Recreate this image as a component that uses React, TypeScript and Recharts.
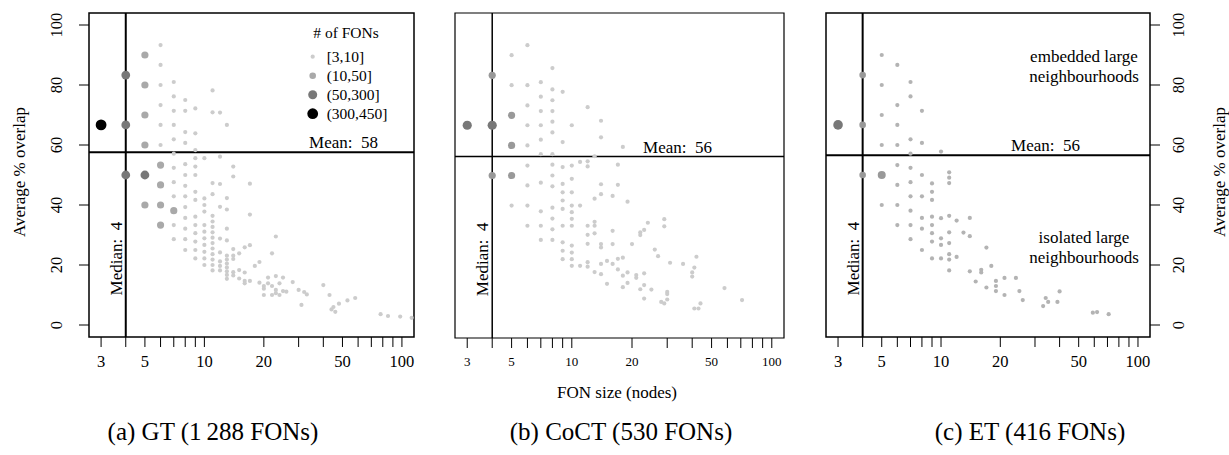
import React from 'react';
import { ScatterChart, Scatter, XAxis, YAxis, ReferenceLine, ReferenceArea } from 'recharts';

const SERIF = '"Liberation Serif", "Times New Roman", Times, serif';

// ---------- axes ----------
const xTicks = [3, 4, 5, 6, 7, 8, 9, 10, 20, 30, 40, 50, 60, 70, 80, 90, 100];
const xLabels = [3, 5, 10, 20, 50, 100];
const yTicks = [0, 20, 40, 60, 80, 100];
const X_DOMAIN: [number, number] = [2.606, 115.1];
const Y_DOMAIN: [number, number] = [-4, 104];

// ---------- legend ----------
const legendTitle = '# of FONs';
const legendLabels = ['[3,10]', '(10,50]', '(50,300]', '(300,450]'];

// ---------- captions ----------
const captions = ['(a) GT (1\u2009288 FONs)', '(b) CoCT (530 FONs)', '(c) ET (416 FONs)'];
const xTitle = 'FON size (nodes)';
const yTitle = 'Average % overlap';

// ---------- summary lines ----------
const median = 4;
const means = [57.6, 56.3, 56.6];
const meanLabels = ['Mean:  58', 'Mean:  56', 'Mean:  56'];

type Tup = [number, number];
const col = (x: number, ys: number[]): Tup[] => ys.map((y) => [x, y] as Tup);

// ---------- (a) GT ----------
const gtBlack: Tup[] = [[3, 66.7]];
const gtDark: Tup[] = [[4, 83.3], [4, 66.7], [4, 50], [5, 50]];
const gtMedium: Tup[] = [
  [5, 90], [5, 80], [5, 70], [5, 60], [5, 40],
  [6, 53.3], [6, 46.7], [6, 40], [6, 33.3], [7, 38.1],
];
const gtSmall: Tup[] = [
  ...col(6, [93.3, 86.7, 80, 73.3, 66.7, 60]),
  ...col(7, [81, 76.2, 71.4, 66.7, 61.9, 57.1, 52.4, 47.6, 42.9, 33.3, 28.6]),
  ...col(8, [75, 71.4, 64.3, 60.7, 53.6, 50, 46.4, 42.9, 39.3, 35.7, 32.1, 28.6, 25]),
  ...col(9, [72.2, 63.9, 58.3, 55.6, 52.8, 50, 44.4, 41.7, 36.1, 33.3, 30.6, 27.8, 25, 22.2]),
  ...col(10, [55.6, 42.2, 40, 37.8, 33.3, 31.1, 28.9, 26.7, 24.4, 22.2, 20]),
  ...col(11, [78.2, 70.9, 47.3, 43.6, 36.4, 34.5, 32.7, 30.9, 29.1, 27.3, 25.5, 23.6, 21.8, 20, 18.2]),
  ...col(12, [70.8, 56.1, 47, 39.4, 28.8, 24.2, 21.2, 19.7, 18.2]),
  ...col(13, [66.7, 42.3, 38.5, 32.1, 28.2, 23.1, 21.8, 20.5, 19.2, 17.9, 16.7, 15.4]),
  ...col(14, [52.8, 49.5, 25.3, 23.1, 22, 17.6, 16.5]),
  ...col(15, [23.9, 18.3, 15.5]),
  ...col(16, [25.9, 17.5, 14.7, 13.9]),
  ...col(17, [47.1, 36.8, 26.6, 14.7]),
  ...col(18, [19.7]),
  ...col(19, [21, 14.1]),
  ...col(20, [13, 12.1, 10]),
  ...col(21, [15.8, 13.9]),
  ...col(22, [23.9, 13, 10]),
  ...col(23, [29.5, 16.3, 11.7, 10.6]),
  ...col(24, [13.9, 10]),
  ...col(25, [15.8, 11.3]),
  ...col(26, [11.1]),
  ...col(28, [14.3]),
  ...col(30, [11.7]),
  ...col(31, [6.7]),
  ...col(32, [11]),
  ...col(33, [10.2]),
  ...col(40, [13.3]),
  ...col(43, [10]),
  ...col(44, [5.2]),
  ...col(45, [6]),
  ...col(46, [4.4]),
  ...col(48, [7.1]),
  ...col(53, [8.2]),
  ...col(58, [9]),
  ...col(78, [3.6]),
  ...col(85, [3]),
  ...col(98, [2.8]),
  ...col(112, [2.4]),
];

// ---------- (b) CoCT ----------
const coctDark: Tup[] = [[3, 66.7], [4, 66.7]];
const coctMedium: Tup[] = [[4, 83.3], [4, 50], [5, 70], [5, 60], [5, 50]];
const coctSmall: Tup[] = [
  ...col(5, [90, 80, 40]),
  ...col(6, [93.3, 80, 73.3, 66.7, 60, 53.3, 46.7, 40, 33.3]),
  ...col(7, [81, 76.2, 71.4, 66.7, 61.9, 57.1, 47.6, 38.1, 33.3, 28.6]),
  ...col(8, [85.7, 78.6, 75, 71.4, 67.9, 64.3, 57.1, 53.6, 50, 46.4, 39.3, 35.7, 32.1, 28.6]),
  ...col(9, [77.8, 61.1, 52.8, 47.2, 44.4, 41.7, 38.9, 33.3, 27.8, 25, 22.2]),
  ...col(10, [66.7, 53.3, 48.9, 44.4, 40, 37.8, 35.6, 33.3, 26.7, 24.4, 22.2, 20]),
  ...col(11, [54.5, 40, 20]),
  ...col(12, [72.7, 54.7, 53, 33.3, 30.3, 27.3, 21.2, 19.7]),
  ...col(13, [56.4, 42.3, 34.6, 33.3, 30.8, 17.9]),
  ...col(14, [68.2, 62.7, 47.1, 43.8, 27.2, 26.1, 20.6, 17.2]),
  ...col(15, [21.6, 14]),
  ...col(16, [43.2, 31.6, 27.2, 20.6]),
  ...col(17, [53.6, 46.9, 22.3, 18.8]),
  ...col(18, [59.5, 22.7, 16.7, 12.9]),
  ...col(19, [41.3, 17.8, 14.3]),
  ...col(20, [27.2]),
  ...col(21, [16.9, 16]),
  ...col(22, [31.1, 30.2, 12.2]),
  ...col(23, [31.9, 17.5, 13.6, 9.1]),
  ...col(24, [34.3]),
  ...col(25, [12.1]),
  ...col(26, [25.4]),
  ...col(27, [23.2]),
  ...col(28, [8]),
  ...col(29, [35.5, 33.1, 7.5]),
  ...col(30, [11.3, 10.6, 8.8]),
  ...col(31, [21]),
  ...col(36, [20.6]),
  ...col(40, [17.8, 16.4]),
  ...col(41, [19.4, 5.8]),
  ...col(42, [23]),
  ...col(43, [5.8]),
  ...col(44, [7.5]),
  ...col(58, [12.6]),
  ...col(71, [8.6]),
];

// ---------- (c) ET ----------
const etDark: Tup[] = [[3, 66.7]];
const etMedium: Tup[] = [[4, 83.3], [4, 66.7], [4, 50]];
const etMediumLarge: Tup[] = [[5, 50]];
const etSmall: Tup[] = [
  ...col(5, [90, 80, 70, 60, 40]),
  ...col(6, [86.7, 73.3, 66.7, 60, 53.3, 46.7, 40, 33.3]),
  ...col(7, [81, 76.2, 61.9, 57.1, 52.4, 47.6, 42.9, 38.1, 33.3, 28.6]),
  ...col(8, [71.4, 60.7, 50, 42.9, 35.7, 32.1, 25]),
  ...col(9, [47.2, 44.4, 41.7, 36.1, 33.3, 30.6, 27.8, 22.2]),
  ...col(10, [57.8, 35.6, 28.9, 26.7, 22.2]),
  ...col(11, [50.9, 49.1, 47.3, 36.4, 30.9, 27.3, 23.6, 21.8, 18.2]),
  ...col(12, [34.8, 22.7]),
  ...col(13, [30.8]),
  ...col(14, [35.7, 29.6, 17.9]),
  ...col(15, [14.5]),
  ...col(16, [18.4, 17.5]),
  ...col(17, [25.8, 12.5]),
  ...col(18, [19.7]),
  ...col(19, [14.7, 13, 11.3]),
  ...col(21, [15.7, 10]),
  ...col(24, [15.7]),
  ...col(25, [11.3]),
  ...col(26, [8.3]),
  ...col(33, [6.3]),
  ...col(34, [9]),
  ...col(35, [7.7]),
  ...col(39, [7.7]),
  ...col(40, [11.2]),
  ...col(59, [4.1]),
  ...col(62, [4.3]),
  ...col(71, [3.6]),
];

const toPts = (t: Tup[]) => t.map(([x, y]) => ({ x, y }));

type Group = { data: Tup[]; r: number; fill: string };

type PanelProps = {
  groups: Group[];
  left: number;
  right: number;
  top: number;
  bottom: number;
  yAxis: 'left' | 'right' | 'none';
  mean: number;
  meanLabel: string;
  meanRightOffset: number;
  lineW: number;
  boxW: number;
  tickFont: number;
  tickDy: number;
};

const W = 1229;
const H = 455;

function Panel(p: PanelProps) {
  const yW = 60;
  const xH = 40;
  const margin = {
    top: p.top,
    bottom: H - p.bottom - xH,
    left: p.yAxis === 'left' ? p.left - yW : p.left,
    right: p.yAxis === 'right' ? W - p.right - yW : W - p.right,
  };
  const xTick = (props: any) => {
    const { x, y, payload } = props;
    if (!xLabels.includes(payload.value)) return <g />;
    return (
      <text x={x} y={y + p.tickDy} textAnchor="middle" fontFamily={SERIF} fontSize={p.tickFont} fill="#000">
        {payload.value}
      </text>
    );
  };
  const yTick = (props: any) => {
    const { x, y, payload } = props;
    const bx = p.yAxis === 'left' ? x - 15 : x + 21.5;
    return (
      <text
        x={bx}
        y={y}
        transform={`rotate(-90, ${bx}, ${y})`}
        textAnchor="middle"
        fontFamily={SERIF}
        fontSize={16.5}
        fill="#000"
      >
        {payload.value}
      </text>
    );
  };
  const medianLabel = (props: any) => {
    const vb = props.viewBox;
    if (!vb) return null;
    const x = vb.x - 4;
    const y = vb.y + (vb.height || 0) * 0.758;
    return (
      <text
        x={x}
        y={y}
        transform={`rotate(-90, ${x}, ${y})`}
        textAnchor="middle"
        fontFamily={SERIF}
        fontSize={17}
        fill="#000"
        style={{ whiteSpace: 'pre' }}
      >
        {'Median:  ' + median}
      </text>
    );
  };
  const meanLab = (props: any) => {
    const vb = props.viewBox;
    if (!vb) return null;
    const x = vb.x + (vb.width || 0) - p.meanRightOffset;
    const y = vb.y - 4;
    return (
      <text x={x} y={y} textAnchor="end" fontFamily={SERIF} fontSize={17} fill="#000" style={{ whiteSpace: 'pre' }}>
        {p.meanLabel}
      </text>
    );
  };
  return (
    <div style={{ position: 'absolute', left: 0, top: 0 }}>
      <ScatterChart width={W} height={H} margin={margin}>
        <XAxis
          type="number"
          dataKey="x"
          scale="log"
          domain={X_DOMAIN}
          ticks={xTicks}
          interval={0}
          allowDataOverflow
          height={xH}
          tickSize={10}
          axisLine={false}
          stroke="#000"
          tickLine={{ stroke: '#000', strokeWidth: 1 }}
          tick={xTick}
        />
        <YAxis
          type="number"
          dataKey="y"
          domain={Y_DOMAIN}
          ticks={yTicks}
          interval={0}
          allowDataOverflow
          width={yW}
          hide={p.yAxis === 'none'}
          orientation={p.yAxis === 'right' ? 'right' : 'left'}
          tickSize={10}
          axisLine={false}
          stroke="#000"
          tickLine={{ stroke: '#000', strokeWidth: 1 }}
          tick={yTick}
        />
        {p.groups.map((g, i) => (
          <Scatter
            key={i}
            data={toPts(g.data)}
            isAnimationActive={false}
            shape={(s: any) => <circle cx={s.cx} cy={s.cy} r={g.r} fill={g.fill} />}
          />
        ))}
        <ReferenceArea
          x1={X_DOMAIN[0]}
          x2={X_DOMAIN[1]}
          y1={Y_DOMAIN[0]}
          y2={Y_DOMAIN[1]}
          fill="none"
          fillOpacity={0}
          stroke="#000"
          strokeWidth={p.boxW}
          ifOverflow="visible"
        />
        <ReferenceLine x={median} stroke="#000" strokeWidth={p.lineW} ifOverflow="visible" label={medianLabel} />
        <ReferenceLine y={p.mean} stroke="#000" strokeWidth={p.lineW} ifOverflow="visible" label={meanLab} />
      </ScatterChart>
    </div>
  );
}

const LIGHT = '#cccccc';
const MID = '#a9a9a9';
const DARK = '#787878';

const legendStyles = [
  { r: 2.1, fill: LIGHT },
  { r: 3.3, fill: MID },
  { r: 4.5, fill: DARK },
  { r: 5.4, fill: '#000' },
];

export default function App() {
  return (
    <div style={{ position: 'absolute', left: 0, top: 0, width: W, height: H, background: '#fff' }}>
      <Panel
        groups={[
          { data: gtSmall, r: 2.1, fill: LIGHT },
          { data: gtMedium, r: 3.6, fill: MID },
          { data: gtDark, r: 4.4, fill: DARK },
          { data: gtBlack, r: 5.4, fill: '#000' },
        ]}
        left={89}
        right={414}
        top={13}
        bottom={337}
        yAxis="left"
        mean={means[0]}
        meanLabel={meanLabels[0]}
        meanRightOffset={36}
        lineW={2}
        boxW={1.5}
        tickFont={16.5}
        tickDy={18}
      />
      <Panel
        groups={[
          { data: coctSmall, r: 2.1, fill: LIGHT },
          { data: coctMedium, r: 3.6, fill: '#999999' },
          { data: coctDark, r: 4.6, fill: DARK },
        ]}
        left={455}
        right={784}
        top={13}
        bottom={338}
        yAxis="none"
        mean={means[1]}
        meanLabel={meanLabels[1]}
        meanRightOffset={72}
        lineW={1.5}
        boxW={1.2}
        tickFont={13}
        tickDy={16}
      />
      <Panel
        groups={[
          { data: etSmall, r: 2.1, fill: '#b3b3b3' },
          { data: etMedium, r: 3.3, fill: '#999999' },
          { data: etMediumLarge, r: 4, fill: '#999999' },
          { data: etDark, r: 4.8, fill: DARK },
        ]}
        left={826}
        right={1150}
        top={13}
        bottom={337}
        yAxis="right"
        mean={means[2]}
        meanLabel={meanLabels[2]}
        meanRightOffset={70}
        lineW={2}
        boxW={1.5}
        tickFont={16.5}
        tickDy={18}
      />
      <svg
        width={W}
        height={H}
        style={{ position: 'absolute', left: 0, top: 0, pointerEvents: 'none' }}
        fontFamily={SERIF}
        fill="#000"
      >
        {/* y titles */}
        <text x={25} y={172} transform="rotate(-90, 25, 172)" textAnchor="middle" fontSize={17} fill="#000">
          {yTitle}
        </text>
        <text x={1225} y={172} transform="rotate(-90, 1225, 172)" textAnchor="middle" fontSize={17} fill="#000">
          {yTitle}
        </text>
        {/* legend (a) */}
        <text x={346} y={38} textAnchor="middle" fontSize={15.5} fill="#000">
          {legendTitle}
        </text>
        {legendLabels.map((l, i) => {
          const cy = 56.7 + i * 19;
          return (
            <g key={l}>
              <circle cx={312.7} cy={cy} r={legendStyles[i].r} fill={legendStyles[i].fill} />
              <text x={326.7} y={cy + 5} fontSize={15.5} fill="#000">
                {l}
              </text>
            </g>
          );
        })}
        {/* annotations (c) */}
        <text x={1084} y={62} textAnchor="middle" fontSize={17} fill="#000">embedded large</text>
        <text x={1084} y={81.5} textAnchor="middle" fontSize={17} fill="#000">neighbourhoods</text>
        <text x={1084} y={243} textAnchor="middle" fontSize={17} fill="#000">isolated large</text>
        <text x={1084} y={262.5} textAnchor="middle" fontSize={17} fill="#000">neighbourhoods</text>
        {/* x title */}
        <text x={617} y={398} textAnchor="middle" fontSize={17} fill="#000">
          {xTitle}
        </text>
        {/* captions */}
        <text x={213} y={440} textAnchor="middle" fontSize={25} fill="#000">{captions[0]}</text>
        <text x={621} y={440} textAnchor="middle" fontSize={25} fill="#000">{captions[1]}</text>
        <text x={1030} y={440} textAnchor="middle" fontSize={25} fill="#000">{captions[2]}</text>
      </svg>
    </div>
  );
}
